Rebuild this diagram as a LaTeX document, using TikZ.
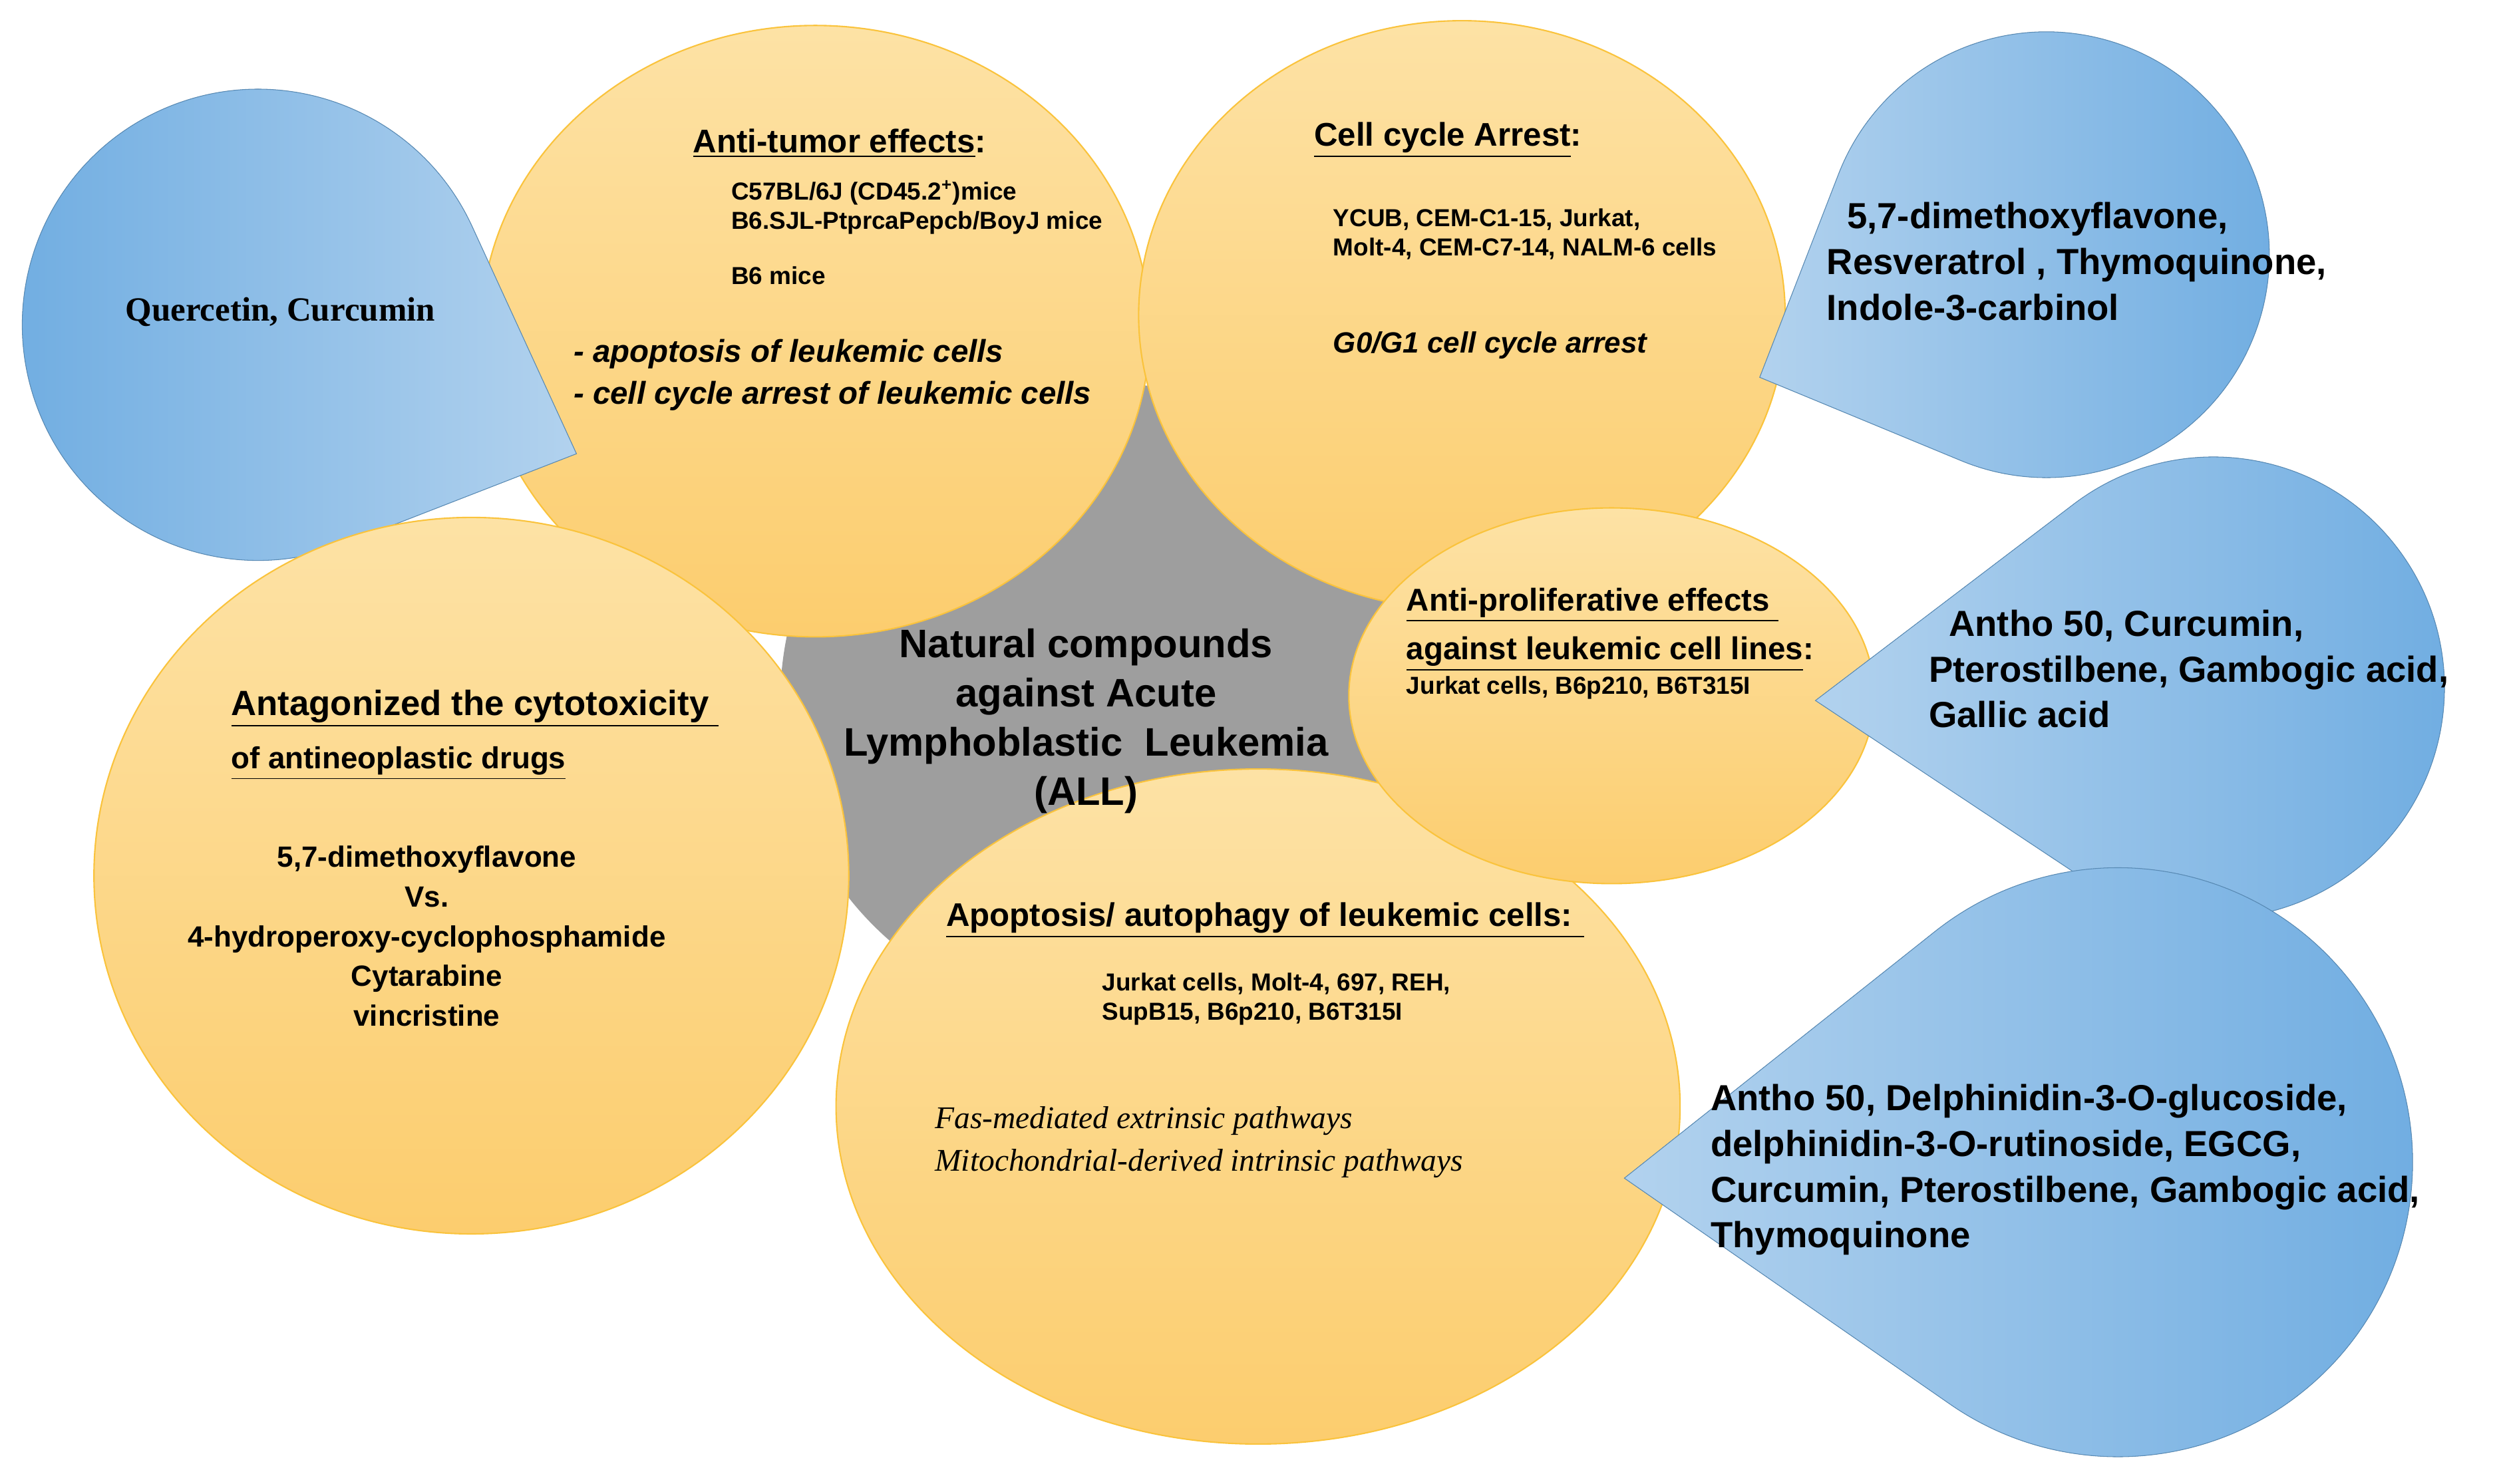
\documentclass[tikz,border=0pt]{standalone}
\usepackage{fontspec}
\setmainfont{Liberation Sans}
\newfontfamily\serif{Liberation Serif}
\usetikzlibrary{shapes.geometric,calc}
\definecolor{orA}{RGB}{252,205,110}
\definecolor{orB}{RGB}{253,226,165}
\definecolor{orE}{RGB}{250,195,60}
\definecolor{blA}{RGB}{110,172,225}
\definecolor{blB}{RGB}{178,210,238}
\newcommand\mytear[8]{% name cx cy r tx ty leftcol rightcol
  \pgfmathsetmacro\phi{atan2(#6-#3,#5-#2)}
  \pgfmathsetmacro\dd{veclen(#5-#2,#6-#3)}
  \pgfmathsetmacro\al{acos(#4/\dd)}
  \pgfmathsetmacro\sa{\phi+\al}
  \pgfmathsetmacro\ea{\phi+360-\al}
  \coordinate (#1) at (#2,#3);
  \fill[left color=#7,right color=#8,draw=blA!80!black,line width=0.3pt]
    (#5,#6) -- ($(#1)+(\sa:#4)$) arc[start angle=\sa,end angle=\ea,radius=#4] -- cycle;}
\tikzset{
  bub/.style={ellipse,top color=orB,bottom color=orA,draw=orE,line width=0.6pt,inner sep=0pt},
  hd/.style={font=\bfseries\fontsize{14}{17}\selectfont,align=left},
  sm/.style={font=\bfseries\fontsize{10.5}{12.5}\selectfont,align=left},
  bt/.style={font=\bfseries\fontsize{15.5}{19.5}\selectfont,align=left}
}
\begin{document}
\begin{tikzpicture}[x=0.02393cm,y=-0.02393cm]
\useasboundingbox (0,0) rectangle (1568,932);
\fill[white] (0,0) rectangle (1568,932);
\node[circle,fill=black!38,minimum size=400*0.02393cm] (g) at (690,440) {};
\node[bub,minimum width=420*0.02393cm,minimum height=384*0.02393cm] (at) at (512,208) {};
\node[bub,minimum width=406*0.02393cm,minimum height=370*0.02393cm] (cc) at (918,198) {};
\mytear{q}{162}{204}{148}{362}{285}{blA}{blB}
\node[bub,minimum width=474*0.02393cm,minimum height=450*0.02393cm] (an) at (296,550) {};
\node[bub,minimum width=530*0.02393cm,minimum height=424*0.02393cm] (ap) at (790,695) {};
\node[bub,minimum width=330*0.02393cm,minimum height=236*0.02393cm] (pr) at (1012,437) {};
\mytear{tr}{1285}{160}{140}{1105}{237}{blB}{blA}
\mytear{md}{1390}{432}{145}{1140}{440}{blB}{blA}
\mytear{bt}{1330}{730}{185}{1020}{740}{blB}{blA}
% center text
\node[font=\bfseries\fontsize{17}{21}\selectfont,align=center] (gt) at (682,453) {Natural compounds\\against Acute\\Lymphoblastic\ \ Leukemia\\(ALL)};
% anti-tumor
\node[hd,anchor=west] (at1) at (430,90) {\underline{Anti-tumor effects}:};
\node[sm,anchor=north west] (at2) at (454,108) {C57BL/6J (CD45.2\textsuperscript{+})mice\\B6.SJL-PtprcaPepcb/BoyJ mice};
\node[sm,anchor=west] (at3) at (454,173) {B6 mice};
\node[font=\bfseries\itshape\fontsize{13.5}{18}\selectfont,align=left,anchor=north west] (at4) at (355,208) {- apoptosis of leukemic cells\\- cell cycle arrest of leukemic cells};
% cell cycle
\node[hd,anchor=west] (cc1) at (820,88) {\underline{Cell cycle Arrest}:};
\node[sm,anchor=north west] (cc2) at (832,126) {YCUB, CEM-C1-15, Jurkat,\\Molt-4, CEM-C7-14, NALM-6 cells};
\node[font=\bfseries\itshape\fontsize{12.5}{15}\selectfont,anchor=west] (cc3) at (832,217) {G0/G1 cell cycle arrest};
% antiprolif
\node[font=\bfseries\fontsize{13.5}{21}\selectfont,align=left,anchor=north west] (pr1) at (878,364) {\underline{Anti-proliferative effects }\\\underline{against leukemic cell lines}:};
\node[sm,anchor=west] (pr2) at (878,432) {Jurkat cells, B6p210, B6T315I};
% antagonized
\node[font=\bfseries\fontsize{15}{23}\selectfont,align=left,anchor=north west] (an1) at (140,428) {\underline{Antagonized the cytotoxicity }\\\underline{{\fontsize{13}{15}\selectfont of antineoplastic drugs}}};
\node[font=\bfseries\fontsize{12.5}{17}\selectfont,align=center] (an2) at (268,588) {5,7-dimethoxyflavone\\Vs.\\4-hydroperoxy-cyclophosphamide\\Cytarabine\\vincristine};
% apoptosis
\node[hd,anchor=west] (ap1) at (589,578) {\underline{Apoptosis/\ autophagy of leukemic cells: }};
\node[sm,anchor=north west] (ap2) at (687,606) {Jurkat cells, Molt-4, 697, REH,\\SupB15, B6p210, B6T315I};
\node[font=\serif\itshape\fontsize{13.5}{18}\selectfont,align=left,anchor=north west] (ap3) at (582,690) {Fas-mediated extrinsic pathways\\Mitochondrial-derived intrinsic pathways};
% blue texts
\node[font=\serif\bfseries\fontsize{14.5}{17}\selectfont] (qt) at (176,196) {Quercetin, Curcumin};
\node[bt,anchor=north west] (trt) at (1142,122) {\ \ 5,7-dimethoxyflavone,\\Resveratrol\ , Thymoquinone,\\Indole-3-carbinol};
\node[bt,anchor=north west] (mdt) at (1206,378) {\ \ Antho 50, Curcumin,\\Pterostilbene, Gambogic acid,\\Gallic acid};
\node[bt,anchor=north west] (btt) at (1069,676) {Antho 50, Delphinidin-3-O-glucoside,\\delphinidin-3-O-rutinoside, EGCG,\\Curcumin, Pterostilbene, Gambogic acid,\\Thymoquinone};
\end{tikzpicture}
\end{document}
